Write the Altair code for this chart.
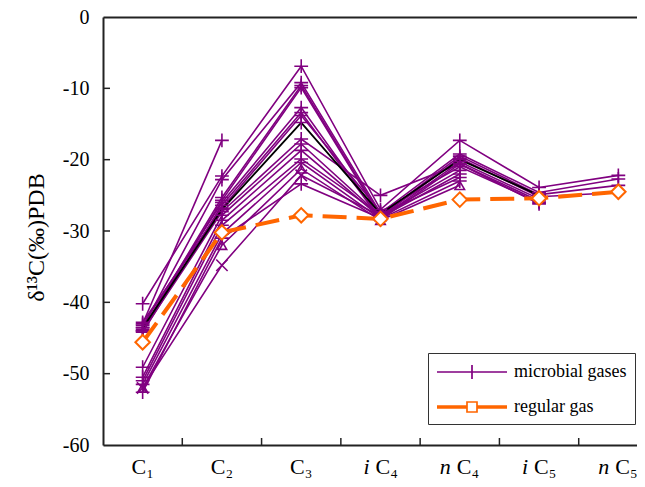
import altair as alt
import pandas as pd

categories = ["C1", "C2", "C3", "iC4", "nC4", "iC5", "nC5"]
label_main = ["C₁", "C₂", "C₃", "C₄", "C₄", "C₅", "C₅"]
label_prefix = ["", "", "", "i", "n", "i", "n"]

# microbial gas samples (C1 .. nC5), None = not measured
m01 = [-43.0, -17.3, None, None, None, None, None]
m02 = [-40.2, -22.3, -6.9, -27.0, -17.3, -23.9, -22.2]
m03 = [-43.5, -22.8, -9.2, -27.5, -19.2, -24.6, -22.7]
m04 = [-43.8, -25.3, -9.6, -27.8, -19.5, -24.9, -23.6]
m05 = [-44.0, -25.7, -9.9, -28.0, -19.8, -25.2, -24.6]
m07 = [-43.2, -26.0, -12.7, -28.2, -20.3, -25.5, None]
m08 = [-44.2, -26.4, -13.4, -28.4, -20.6, -25.8, None]
m09 = [-42.8, -26.8, -13.8, -27.3, -21.0, -26.0, None]
m10 = [-44.0, -27.3, -17.1, -25.0, -20.6, -26.2, None]
m11 = [-49.1, -27.8, -17.8, -27.9, -21.5, None, None]
m12 = [-50.5, -28.5, -18.7, -28.1, -22.0, None, None]
m13 = [-51.0, -29.2, -19.9, -27.7, -22.5, None, None]
m14 = [-51.5, -30.4, -20.4, -28.3, -23.0, None, None]
m15 = [-52.0, -32.0, -21.3, -28.5, -23.6, None, None]
m16 = [-52.0, -34.8, -22.2, -27.9, None, None, None]
m17 = [-52.6, -31.0, -23.4, -28.2, None, None, None]
microbial = [m01, m02, m03, m04, m05, m07, m08, m09, m10, m11, m12, m13, m14, m15, m16, m17]
microbial_markers = ["plus", "plus", "plus", "plus", "plus", "plus", "plus", "plus",
                     "plus", "plus", "plus", "plus", "plus", "triangle", "cross", "plus"]
black_sample = [-43.6, -27.0, -14.8, -27.6, -20.0, -25.0, None]
regular = [-45.6, -30.2, -27.8, -28.3, -25.6, -25.4, -24.5]
yticks = [-50, -40, -30, -20, -10]
xtick_cats = ["C2", "C3", "iC4", "nC4", "iC5", "nC5"]
legend_names = ["microbial gases", "regular gas"]

PURPLE = "#800080"
ORANGE = "#FF6600"
FONT = "Liberation Serif"
W, H = 534, 428
XRANGE = 555

rows = []
for i, (vals, mk) in enumerate(zip(microbial, microbial_markers)):
    for c, v in zip(categories, vals):
        if v is not None:
            rows.append({"sample": f"m{i}", "cat": c, "value": v, "marker": mk})
micro_df = pd.DataFrame(rows)
black_df = pd.DataFrame([{"cat": c, "value": v} for c, v in zip(categories, black_sample) if v is not None])
reg_df = pd.DataFrame({"cat": categories, "value": regular})
ytick_df = pd.DataFrame({"value": yticks})
xtick_df = pd.DataFrame({"cat": xtick_cats})
legend_df = pd.DataFrame({"series": legend_names, "cat": ["C1", "C1"], "value": [-70, -70]})

xscale = alt.Scale(type="band", domain=categories, paddingInner=0, paddingOuter=0, range=[0, XRANGE])
yscale = alt.Scale(domain=[-60, 0], nice=False, zero=False)


def cond_expr(values, default="''"):
    parts = []
    for c, v in zip(categories, values):
        parts.append(f"datum.value == '{c}' ? '{v}' : ")
    return "".join(parts) + default


main_axis = alt.Axis(
    orient="bottom", title=None, labelExpr=cond_expr(label_main), labelFontSize=22,
    labelFont=FONT, labelColor="black", labelPadding=11, ticks=False, labelAngle=0,
    domainColor="#222", domainWidth=2,
    labelAlign={"condition": {"test": "indexof(['iC4','nC4','iC5','nC5'], datum.value) >= 0", "value": "left"}, "value": "center"},
    labelOffset={"condition": [
        {"test": "indexof(['iC4','iC5'], datum.value) >= 0", "value": -5},
        {"test": "indexof(['nC4','nC5'], datum.value) >= 0", "value": -3}], "value": 0},
)
prefix_axis = alt.Axis(
    orient="bottom", title=None, labelExpr=cond_expr(label_prefix), labelFontSize=22,
    labelFont=FONT, labelFontStyle="italic", labelColor="black", labelPadding=11, ticks=False,
    labelAngle=0, domain=False, labelAlign="right",
    labelOffset={"condition": [
        {"test": "indexof(['iC4','iC5'], datum.value) >= 0", "value": -11},
        {"test": "indexof(['nC4','nC5'], datum.value) >= 0", "value": -9}], "value": 0},
)
top_axis = alt.Axis(orient="top", title=None, labels=False, ticks=False, domain=True,
                    domainColor="#222", domainWidth=2, grid=False)
yaxis = alt.Axis(
    values=[-60, -50, -40, -30, -20, -10, 0],
    labelExpr="datum.value < 0 ? '-' + toString(abs(datum.value)) : toString(datum.value)",
    title="δ¹³C(‰)PDB", titleFont=FONT, titleFontSize=24, titleFontWeight="normal",
    titleColor="black", titlePadding=14, titleY=220, labelFont=FONT, labelFontSize=20,
    labelColor="black", labelPadding=14, ticks=False, grid=False, domainColor="#222", domainWidth=2,
)


def X(axis=None, band=0.5):
    return alt.X("cat:N", scale=xscale, axis=axis, bandPosition=band)


Y = alt.Y("value:Q", scale=yscale, axis=yaxis)

plus_path = "M-1,0H1M0,-1V1"
x_path = "M-1,-1L1,1M-1,1L1,-1"

micro_lines = alt.Chart(micro_df).mark_line(color=PURPLE, strokeWidth=1.6).encode(
    x=X(main_axis), y=Y, detail="sample:N")
black_line = alt.Chart(black_df).mark_line(color="black", strokeWidth=1.8).encode(x=X(top_axis), y=Y)


def marker_layer(kind, **kw):
    return alt.Chart(micro_df).transform_filter(f"datum.marker == '{kind}'").mark_point(
        color=PURPLE, opacity=1, **kw).encode(x=X(), y=Y)


plus_pts = marker_layer("plus", filled=False, shape=plus_path, size=190, strokeWidth=1.6)
cross_pts = marker_layer("cross", filled=False, shape=x_path, size=130, strokeWidth=1.6)
tri_pts = marker_layer("triangle", filled=False, shape="triangle-up", size=90, strokeWidth=1.6)
black_pts = alt.Chart(black_df).mark_point(filled=False, shape=plus_path, color=PURPLE,
                                           strokeWidth=1.6, size=190, opacity=1).encode(x=X(), y=Y)
reg_line = alt.Chart(reg_df).mark_line(color=ORANGE, strokeWidth=4, strokeDash=[24, 10]).encode(x=X(), y=Y)
reg_pts = alt.Chart(reg_df).mark_point(shape="diamond", filled=True, fill="white", stroke=ORANGE,
                                       strokeWidth=2, size=210, opacity=1).encode(x=X(), y=Y)

# legend symbols: unit = 10 px (symbolSize 400); line 70 px long with marker in the middle
legend_paths = ["M-1,0H6M2.5,-0.7V0.7",
                "M-1,-0.08H2M3,-0.08H6M-1,0.08H2M3,0.08H6M2,-0.5H3V0.5H2Z"]
leg = alt.Legend(title=None, orient="none", legendX=325, legendY=336, symbolSize=400,
                 symbolStrokeWidth=1.7, labelFont=FONT, labelFontSize=18, labelColor="black",
                 strokeColor="#333", fillColor="white", padding=8, labelOffset=56, rowPadding=13)
legend_layer = alt.Chart(legend_df).mark_point(filled=False, clip=True, opacity=1).encode(
    x=X(), y=Y,
    color=alt.Color("series:N", scale=alt.Scale(domain=legend_names, range=[PURPLE, ORANGE]), legend=leg),
    shape=alt.Shape("series:N", scale=alt.Scale(domain=legend_names, range=legend_paths), legend=leg),
)

ytick_layer = alt.Chart(ytick_df).mark_rule(color="#222", strokeWidth=1.5).encode(
    y=Y, x=alt.value(0), x2=alt.value(7))
xtick_layer = alt.Chart(xtick_df).mark_rule(color="#222", strokeWidth=1.5).encode(
    x=X(prefix_axis, band=0), y=alt.value(H), y2=alt.value(H - 7))

chart = alt.layer(
    micro_lines, black_line, plus_pts, cross_pts, tri_pts, black_pts, reg_line, reg_pts,
    legend_layer, ytick_layer, xtick_layer
).resolve_axis(x="independent").properties(
    width=W, height=H,
    autosize=alt.AutoSizeParams(type="none"),
    padding={"left": 95, "top": 9, "right": 0, "bottom": 34},
).configure_view(strokeWidth=0).configure(background="white")

chart.save("out.html", embed_options={"renderer": "svg", "actions": False})
